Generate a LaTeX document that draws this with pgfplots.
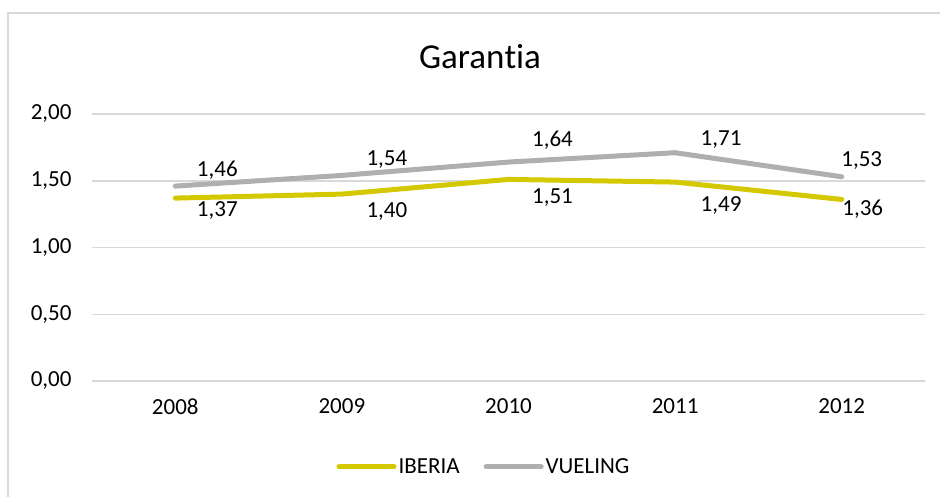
\documentclass[border=0pt]{standalone}
\usepackage{pgfplots}
\pgfplotsset{compat=1.18}
\usepackage{pgfplotstable}
\usepackage{fontspec}
\setmainfont{Carlito}[Ligatures=NoCommon]
\definecolor{iberia}{RGB}{212,200,0}
\definecolor{vueling}{RGB}{175,175,175}
\definecolor{gridc}{RGB}{217,217,217}

\pgfplotstableread{
x y dx dy
0 1.37 42 -12
1 1.40 45 -17
2 1.51 44 -18
3 1.49 46 -23
4 1.36 21 -10
}\iberiadata
\pgfplotstableread{
x y dx dy
0 1.46 42 16
1 1.54 45 16
2 1.64 44 22
3 1.71 46 13
4 1.53 20 16
}\vuelingdata

\begin{document}
\begin{tikzpicture}[x=1pt,y=1pt]
\useasboundingbox (0,0) rectangle (940,496);
\draw[gridc, line width=1.5pt] (8,-10) -- (8,483) -- (950,483);
\node[font=\fontsize{35}{42}\selectfont, anchor=center] at (480,439) {Garan\kern0pt tia};
\begin{axis}[
  at={(92pt,115pt)}, anchor=south west,
  scale only axis, width=833pt, height=267pt,
  xmin=-0.5, xmax=4.5, ymin=0, ymax=2,
  axis line style={draw=none},
  ymajorgrids, grid style={gridc, line width=1.5pt},
  xtick={0,1,2,3,4}, xticklabels={2008,2009,2010,2011,2012},
  ytick={0,0.5,1,1.5,2},
  major tick length=0pt, tick style={draw=none},
  tick label style={font=\fontsize{23}{27}\selectfont, text=black},
  yticklabel style={xshift=-17pt, /pgf/number format/fixed, /pgf/number format/fixed zerofill, /pgf/number format/precision=2, /pgf/number format/use comma, /pgf/number format/assume math mode=true},
  xticklabel style={yshift=-14pt},
  clip=false,
  legend columns=2,
  legend style={at={(rel axis cs:0.4706,-0.322)}, anchor=center, draw=none, fill=none,
    font=\fontsize{23}{27}\selectfont, column sep=0pt, nodes={inner xsep=2pt},
    /tikz/every even column/.append style={column sep=22pt}},
  legend image code/.code={\draw[#1, line width=5pt, line cap=round] (0,0) -- (55pt,0);},
  every node near coord/.append style={font=\fontsize{23}{27}\selectfont, text=black, anchor=center, xshift=\dx pt, yshift=\dy pt},
  visualization depends on={\thisrow{dx} \as \dx},
  visualization depends on={\thisrow{dy} \as \dy},
  nodes near coords={\pgfmathprintnumber[fixed,fixed zerofill,precision=2,use comma,assume math mode=true]{\pgfplotspointmeta}},
]
\addplot[iberia, line width=5pt, line join=round, line cap=round, mark=none] table[x=x,y=y] {\iberiadata};
\addlegendentry{IBERIA}
\addplot[vueling, line width=5pt, line join=round, line cap=round, mark=none] table[x=x,y=y] {\vuelingdata};
\addlegendentry{VUELING}
\end{axis}
\end{tikzpicture}
\end{document}
